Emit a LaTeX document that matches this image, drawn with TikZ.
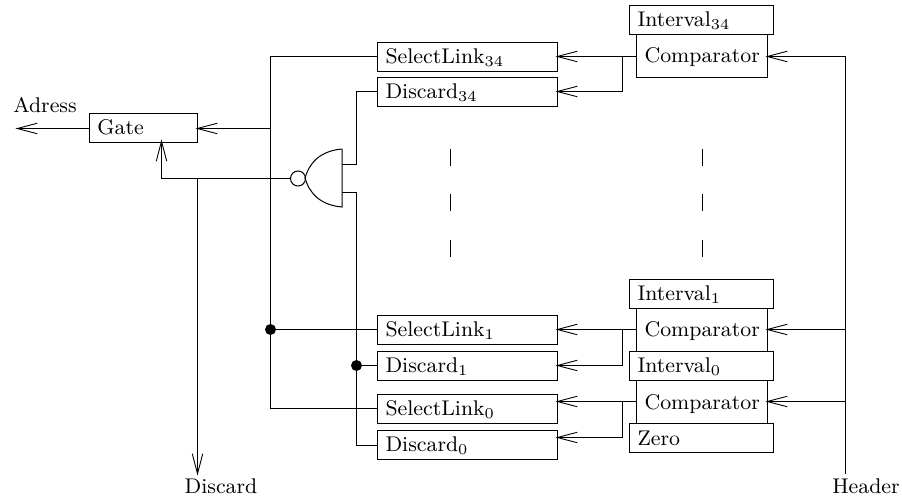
\documentclass[tikz,border=0pt]{standalone}
\usetikzlibrary{arrows.meta,calc}
\tikzset{
  wire/.style={line width=0.4pt},
  arr/.style={wire,shorten >=-1pt,-{Straight Barb[length=8pt,width=4.2pt,line width=0.36pt]}},
  box/.style={draw,line width=0.4pt,anchor=north west,rectangle,inner xsep=3.2pt,inner ysep=0pt,
    align=left,text height=6.4pt,text depth=0.8pt,font=\fontsize{8.5}{10}\selectfont},
  sbox/.style={box,text width=65.6pt,minimum height=11.6pt},
  ibox/.style={box,text width=51.2pt,minimum height=11.6pt},
  gbox/.style={box,text width=36.8pt,minimum height=11.6pt},
  cbox/.style={box,text width=46pt,minimum height=17.2pt},
  lab/.style={inner sep=0pt,font=\fontsize{8.5}{10}\selectfont},
  jdot/.style={circle,fill=black,inner sep=0pt,minimum size=4.4pt},
  bubble/.style={circle,draw,line width=0.4pt,inner sep=0pt,minimum size=6pt},
  tick/.style={wire}
}
\begin{document}
\begin{tikzpicture}[x=0.4pt,y=-0.4pt]
\useasboundingbox (0,0) rectangle (902,499);
% boxes
\node[gbox] (gate) at (89,113) {Gate};
\node[sbox] (sl34) at (377,42) {SelectLink$_{34}$};
\node[sbox] (d34) at (377,77) {Discard$_{34}$};
\node[sbox] (sl1) at (377,315) {SelectLink$_{1}$};
\node[sbox] (d1) at (377,351) {Discard$_{1}$};
\node[sbox] (sl0) at (377,394) {SelectLink$_{0}$};
\node[sbox] (d0) at (377,430) {Discard$_{0}$};
\node[ibox] (i34) at (629,5) {Interval$_{34}$};
\node[cbox] (c34) at (636,34) {Comparator};
\node[ibox] (i1) at (629,279) {Interval$_{1}$};
\node[cbox] (c1) at (636,308) {Comparator};
\node[ibox] (i0) at (629,351) {Interval$_{0}$};
\node[cbox] (c0) at (636,380) {Comparator};
\node[ibox] (zero) at (629,423) {Zero};
% labels
\node[lab,anchor=base] (adress) at (45,112.5) {Adress};
\node[lab,anchor=base] (discard) at (221,494) {Discard};
\node[lab,anchor=base] (header) at (866,493.5) {Header};
% free coordinates
\coordinate (adrend) at (18,128.5);
\coordinate (bustop) at (270.5,56.5);
\coordinate (busgate) at (270.5,128.5);
\coordinate (busone) at (270.5,329.5);
\coordinate (busbot) at (270.5,408.5);
\coordinate (nandtop) at (342,149);
\coordinate (nandbot) at (342,207);
\coordinate (nandtip) at (305,178);
\coordinate (inupper) at (342,164.5);
\coordinate (inlower) at (342,192.5);
\coordinate (bustwoA) at (356.5,91.5);
\coordinate (bustwoB) at (356.5,164.5);
\coordinate (bustwoC) at (356.5,192.5);
\coordinate (bustwoD) at (356.5,365.5);
\coordinate (bustwoE) at (356.5,445.5);
\coordinate (gatein) at (161.5,142);
\coordinate (ctrlbend) at (161.5,178.5);
\coordinate (discstart) at (197.5,178.5);
\coordinate (discend) at (197.5,473);
\coordinate (headtop) at (845.5,56.5);
\coordinate (headone) at (845.5,329.5);
\coordinate (headzero) at (845.5,401.5);
\coordinate (headbot) at (845.5,474);
\coordinate (br34a) at (622.5,56.5);
\coordinate (br34b) at (622.5,91.5);
\coordinate (br1a) at (622.5,329.5);
\coordinate (br1b) at (622.5,365.5);
\coordinate (br0a) at (622.5,401.5);
\coordinate (br0b) at (622.5,437.5);
% NAND gate
\draw[wire] (nandtop) -- (nandbot)
  .. controls (319,205) and (309,192) .. (nandtip)
  .. controls (309,164) and (319,151) .. (nandtop);
\node[bubble] (bub) at (298,178.5) {};
% left bus
\draw[wire] (sl34.west |- bustop) -- (bustop) -- (busbot) -- (sl0.west |- busbot);
\draw[wire] (busone) -- (sl1.west |- busone);
\node[jdot] (dotone) at (busone) {};
\draw[arr] (busgate) -- (gate.east |- busgate);
\draw[arr] (gate.west |- adrend) -- (adrend);
% control
\draw[arr] (bub.west) -- (ctrlbend) -- (gatein);
\draw[arr] (discstart) -- (discend);
% second bus
\draw[wire] (inupper) -- (bustwoB) -- (bustwoA) -- (d34.west |- bustwoA);
\draw[wire] (inlower) -- (bustwoC) -- (bustwoE) -- (d0.west |- bustwoE);
\draw[wire] (bustwoD) -- (d1.west |- bustwoD);
\node[jdot] (dottwo) at (bustwoD) {};
% comparator outputs
\draw[arr] (br34a -| c34.west) -- (br34a -| sl34.east);
\draw[arr] (br34a) -- (br34b) -- (br34b -| d34.east);
\draw[arr] (br1a -| c1.west) -- (br1a -| sl1.east);
\draw[arr] (br1a) -- (br1b) -- (br1b -| d1.east);
\draw[arr] (br0a -| c0.west) -- (br0a -| sl0.east);
\draw[arr] (br0a) -- (br0b) -- (br0b -| d0.east);
% header
\draw[wire] (headtop) -- (headbot);
\draw[arr] (headtop) -- (headtop -| c34.east);
\draw[arr] (headone) -- (headone -| c1.east);
\draw[arr] (headzero) -- (headzero -| c0.east);
% ellipsis ticks
\foreach \x in {450.5,702.5}{
  \draw[tick] (\x,149) -- (\x,166);
  \draw[tick] (\x,194) -- (\x,211);
  \draw[tick] (\x,240) -- (\x,257);
}
\end{tikzpicture}
\end{document}
